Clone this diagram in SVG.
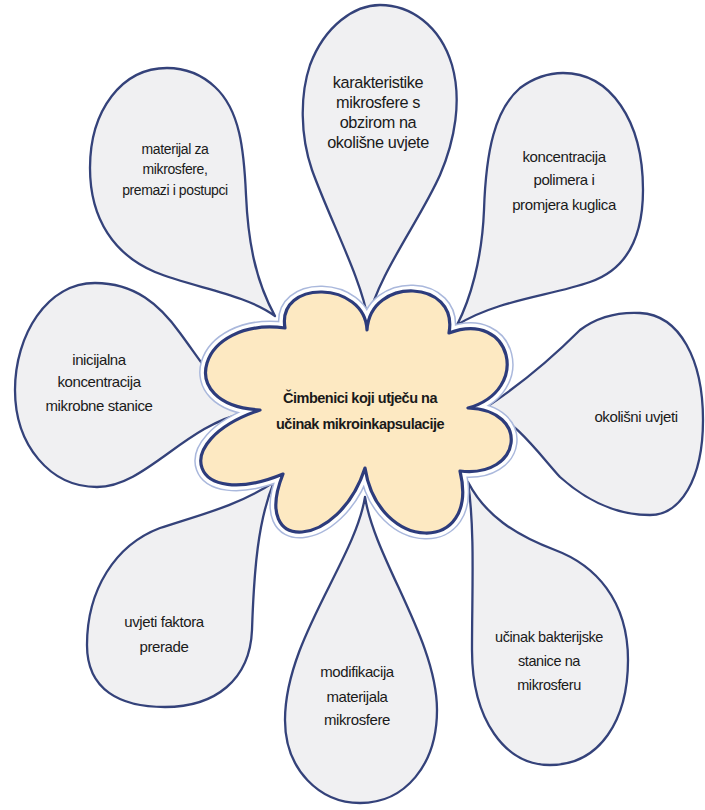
<svg xmlns="http://www.w3.org/2000/svg" width="705" height="810" viewBox="0 0 705 810">
<style>
.drop{fill:#f0f0f2;stroke:#34427a;stroke-width:2.3;stroke-linejoin:round}
.t{font-family:"Liberation Sans",Arial,sans-serif;fill:#1a1a1a;text-anchor:middle;font-size:15px;letter-spacing:-0.4px}
.c{font-family:"Liberation Sans",Arial,sans-serif;fill:#1a1a1a;text-anchor:middle;font-weight:bold;font-size:14.5px;letter-spacing:-0.5px}
</style>
<defs>
<path id="blobPath" d="M 367,330 C 370.4,275.9 459,279.1 449,333 C 511.5,309.3 532.1,390.3 468,408 C 531,410.2 522.4,478.2 460,471 C 480.5,555.8 377.9,552.6 365,468 C 339,549.1 250.4,555.5 283,474 C 191.5,511.9 166.2,441.5 260,410 C 171.7,405.3 198.7,316.7 285,328 C 276.4,278.6 365,280.8 367,330 Z"/>
</defs>
<rect width="705" height="810" fill="#ffffff"/>
<g id="connectors"/>
<g id="node-top">
<path class="drop" d="M 368,320 C 362,280 330,220 312,170 C 300,135 300,95 310,65 C 325,25 355,5 380,5 C 410,5 440,25 452,65 C 462,100 455,140 440,175 C 420,220 378,275 368,320 Z"/>
<text class="t" style="font-size:16.3px" x="378" y="88">karakteristike</text>
<text class="t" style="font-size:16.3px" x="378" y="108">mikrosfere s</text>
<text class="t" style="font-size:16.3px" x="378" y="128">obzirom na</text>
<text class="t" style="font-size:16.3px" x="378" y="148">okolišne uvjete</text>
</g>
<g id="node-top-left">
<path class="drop" d="M 275,316 C 255,280 248,240 246,195 C 244,150 240,110 215,87 C 200,73 185,68 167,68 C 122,68 90,110 90,168 C 90,220 115,255 155,272 C 195,288 245,294 275,316 Z"/>
<text class="t" style="font-size:14px" x="175" y="154">materijal za</text>
<text class="t" style="font-size:14px" x="175" y="174">mikrosfere,</text>
<text class="t" style="font-size:14px" x="175" y="195">premazi i postupci</text>
</g>
<g id="node-top-right">
<path class="drop" d="M 457,325 C 470,300 482,260 484,210 C 486,150 495,110 520,88 C 535,77 548,73 563,73 C 610,73 643,120 643,190 C 643,240 625,270 590,282 C 550,296 497,300 457,325 Z"/>
<text class="t" x="564" y="162">koncentracija</text>
<text class="t" x="564" y="185">polimera i</text>
<text class="t" x="564" y="210">promjera kuglica</text>
</g>
<g id="node-left">
<path class="drop" d="M 245,413 C 220,392 200,360 180,333 C 160,305 135,283 95,283 C 47,283 15,335 15,390 C 15,445 50,487 97,487 C 145,487 185,425 245,413 Z"/>
<text class="t" x="99" y="365">inicijalna</text>
<text class="t" x="99" y="387">koncentracija</text>
<text class="t" x="99" y="411">mikrobne stanice</text>
</g>
<g id="node-right">
<path class="drop" d="M 485,408 C 520,385 555,355 580,330 C 600,315 620,312 640,313 C 680,315 703,360 703,420 C 703,480 680,515 650,515 C 610,515 580,495 560,477 C 540,455 515,420 485,408 Z"/>
<text class="t" x="636" y="422">okolišni uvjeti</text>
</g>
<g id="node-bottom-left">
<path class="drop" d="M 274,482 C 240,505 200,515 160,528 C 115,545 87,590 87,645 C 87,690 120,707 165,707 C 215,707 250,680 252,630 C 254,570 258,520 274,482 Z"/>
<text class="t" x="164" y="627">uvjeti faktora</text>
<text class="t" x="164" y="652">prerade</text>
</g>
<g id="node-bottom">
<path class="drop" d="M 365,497 C 355,560 285,640 285,720 C 285,770 320,803 360,803 C 405,803 437,765 437,710 C 437,640 375,560 365,497 Z"/>
<text class="t" x="357" y="677">modifikacija</text>
<text class="t" x="357" y="702">materijala</text>
<text class="t" x="357" y="725">mikrosfere</text>
</g>
<g id="node-bottom-right">
<path class="drop" d="M 468,482 C 475,530 472,590 472,650 C 472,720 505,765 550,765 C 600,765 628,720 628,660 C 628,600 595,565 555,550 C 515,535 485,515 468,482 Z"/>
<text class="t" style="font-size:14.5px" x="549" y="642">učinak bakterijske</text>
<text class="t" style="font-size:14.5px" x="549" y="666">stanice na</text>
<text class="t" style="font-size:14.5px" x="549" y="690">mikrosferu</text>
</g>
<g id="node-center">
<use href="#blobPath" fill="none" stroke="#aab8dc" stroke-width="13" stroke-linejoin="round"/>
<use href="#blobPath" fill="none" stroke="#ffffff" stroke-width="10" stroke-linejoin="round"/>
<use href="#blobPath" fill="#fde9c2" stroke="#2d3c7c" stroke-width="3.2" stroke-linejoin="round"/>
<text class="c" x="360" y="403">Čimbenici koji utječu na</text>
<text class="c" x="360" y="429">učinak mikroinkapsulacije</text>
</g>
</svg>
